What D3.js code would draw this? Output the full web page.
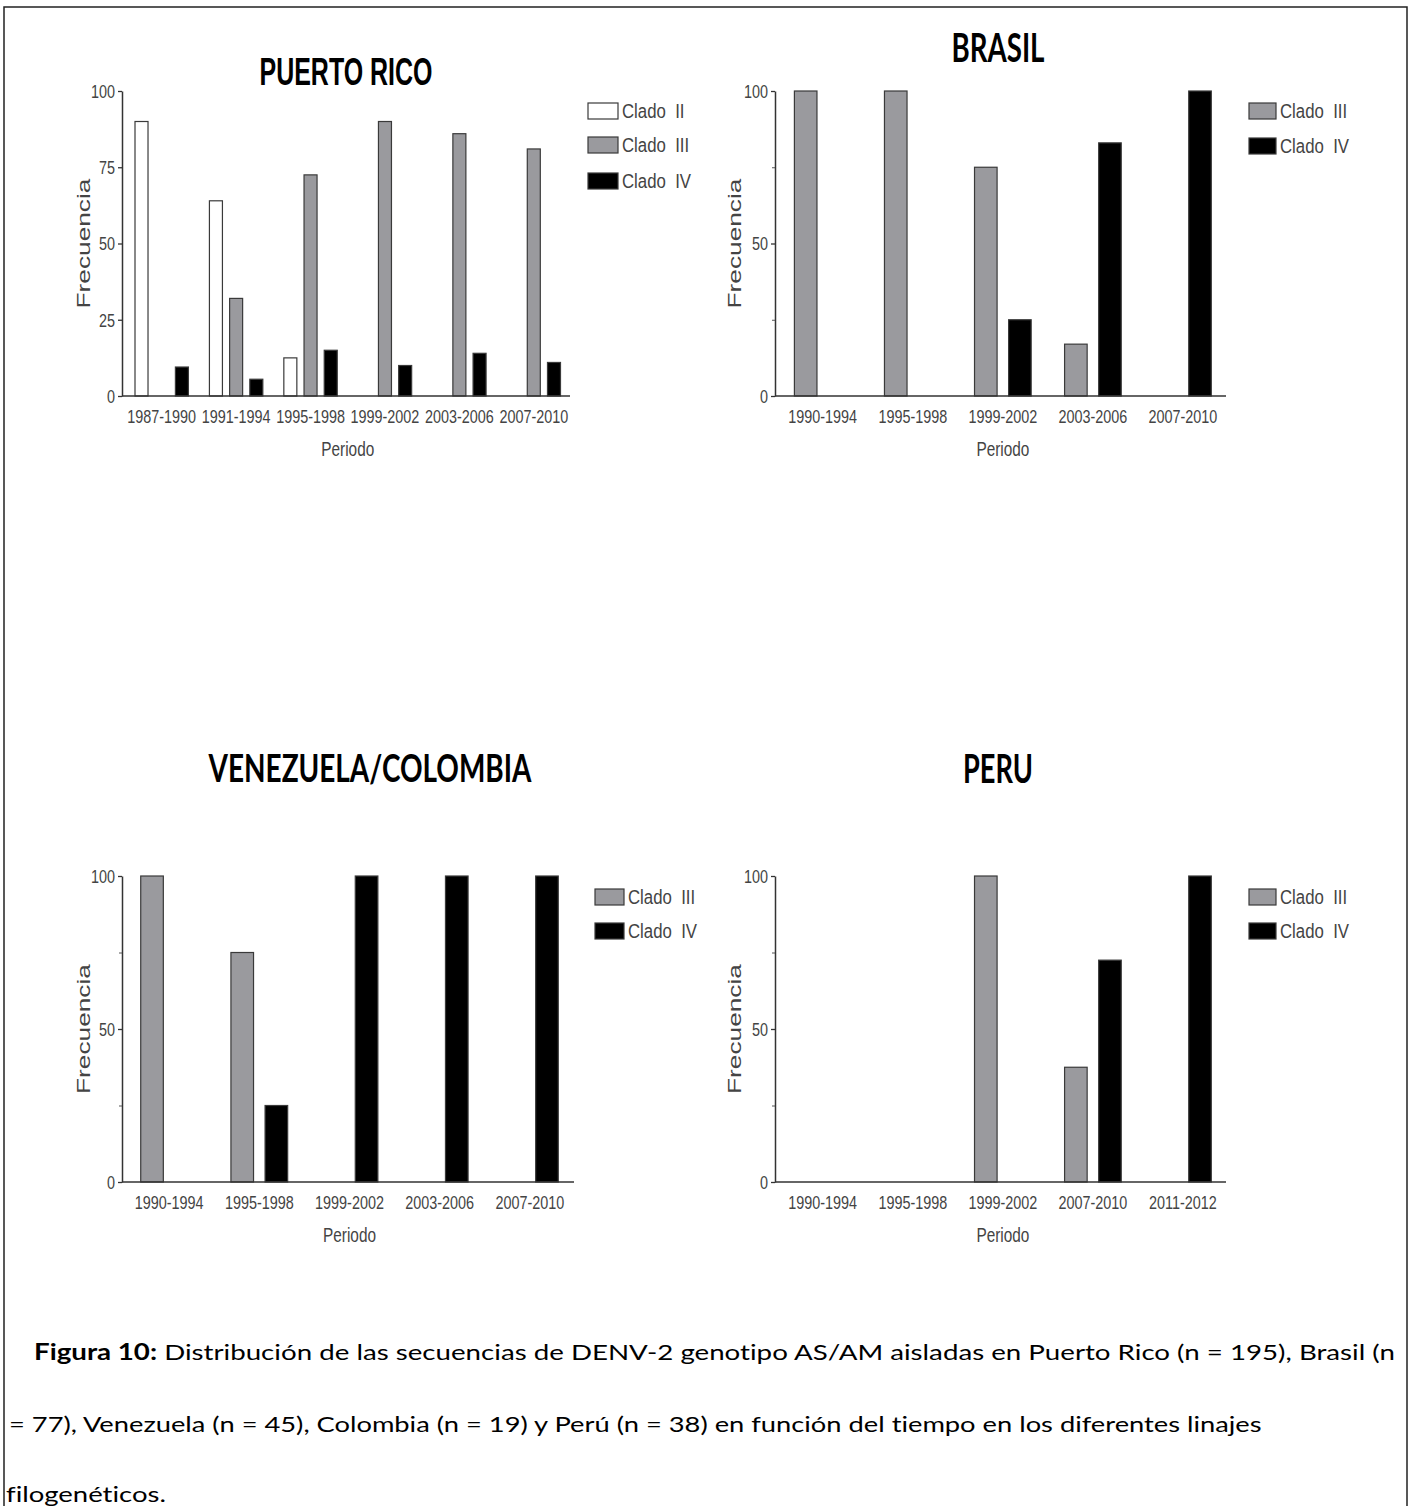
<!DOCTYPE html>
<html>
<head>
<meta charset="utf-8">
<script src="https://cdn.jsdelivr.net/npm/d3@7"></script>
<style>
  body { margin: 0; background: #fff; }
  svg { display: block; }
  text { font-variant-ligatures: none; font-feature-settings: "liga" 0, "dlig" 0; }
</style>
</head>
<body>
<div id="chart"></div>
<script>
// ---- data (% per period) ----
const prPeriods = ["1987-1990", "1991-1994", "1995-1998", "1999-2002", "2003-2006", "2007-2010"];
const prClado2 = [90, 64, 12.5, 0, 0, 0];
const prClado3 = [0, 32, 72.5, 90, 86, 81];
const prClado4 = [9.5, 5.5, 15, 10, 14, 11];

const brPeriods = ["1990-1994", "1995-1998", "1999-2002", "2003-2006", "2007-2010"];
const brClado3 = [100, 100, 75, 17, 0];
const brClado4 = [0, 0, 25, 83, 100];

const vcPeriods = ["1990-1994", "1995-1998", "1999-2002", "2003-2006", "2007-2010"];
const vcClado3 = [100, 75, 0, 0, 0];
const vcClado4 = [0, 25, 100, 100, 100];

const pePeriods = ["1990-1994", "1995-1998", "1999-2002", "2007-2010", "2011-2012"];
const peClado3 = [0, 0, 100, 37.5, 0];
const peClado4 = [0, 0, 0, 72.5, 100];

const prTicks = [0, 25, 50, 75, 100];
const otherTicks = [0, 50, 100];
const minorTicks = [25, 75];

const captionLine1a = "Figura 10:";
const captionLine1b = " Distribución de las secuencias de DENV-2 genotipo AS/AM aisladas en Puerto Rico (n = 195), Brasil (n";
const captionLine2 = "= 77), Venezuela (n = 45), Colombia (n = 19) y Perú (n = 38) en función del tiempo en los diferentes linajes";
const captionLine3 = "filogenéticos.";

// ---- styles ----
const cladeFill = {"Clado II": "#ffffff", "Clado III": "#9a9a9e", "Clado IV": "#000000"};
const chartFont = "'Liberation Sans', Arial, sans-serif";
const squeeze = 0.8;   // the figure text is narrow

const W = 1413, H = 1506;
const svg = d3.select("#chart").append("svg")
  .attr("width", W).attr("height", H);

// frame (no bottom edge, it runs off the page)
svg.append("path")
  .attr("d", `M4,${H} L4,7 L1407,7 L1407,${H}`)
  .attr("fill", "none").attr("stroke", "#222").attr("stroke-width", 1.5);

// stretch text horizontally so it spans a given width
function fitText(g, str, x, y, width, font, size, weight, anchor, rotate) {
  const t = g.append("text")
    .attr("font-family", font).attr("font-size", size)
    .attr("font-weight", weight || "normal")
    .attr("text-anchor", anchor || "start")
    .attr("fill", "#000")
    .text(str);
  const k = width / t.node().getComputedTextLength();
  t.attr("transform", `translate(${x},${y})${rotate ? " rotate(-90)" : ""} scale(${k},1)`);
  return t;
}

function drawPanel(p) {
  const g = svg.append("g");
  const series = p.series;
  const names = series.map(s => s.name);

  const x0 = d3.scaleBand().domain(p.periods).range(p.groupRange).padding(0);
  const x1 = d3.scaleBand().domain(names).range([0, x0.bandwidth()])
    .paddingInner(p.innerPad).paddingOuter(p.outerPad);
  const y = d3.scaleLinear().domain([0, 100]).range([p.y0, p.y100]);

  // bars
  series.forEach(s => {
    g.append("g").selectAll("rect")
      .data(p.periods.map((per, i) => ({per, v: s.values[i]})).filter(d => d.v > 0))
      .enter().append("rect")
        .attr("x", d => x0(d.per) + x1(s.name))
        .attr("y", d => y(d.v))
        .attr("width", x1.bandwidth())
        .attr("height", d => y(0) - y(d.v))
        .attr("fill", cladeFill[s.name])
        .attr("stroke", "#3a3a3a")
        .attr("stroke-width", 1.2);
  });

  // y axis
  const yAxis = g.append("g")
    .attr("transform", `translate(${p.axisX},0)`)
    .call(d3.axisLeft(y).tickValues(p.ticks).tickSize(4).tickSizeOuter(0));
  yAxis.select(".domain").attr("stroke", "#333").attr("stroke-width", 1.5);
  yAxis.selectAll(".tick line").attr("stroke", "#333").attr("stroke-width", 1.3);
  yAxis.selectAll(".tick text")
    .attr("x", null).attr("dy", "0.35em")
    .attr("transform", `translate(-7,0) scale(${squeeze},1)`)
    .attr("font-family", chartFont).attr("font-size", 18).attr("fill", "#444");

  if (p.minor) {
    const m = g.append("g")
      .attr("transform", `translate(${p.axisX},0)`)
      .call(d3.axisLeft(y).tickValues(minorTicks).tickSize(3).tickFormat(""));
    m.select(".domain").remove();
    m.selectAll(".tick line").attr("stroke", "#555");
  }

  // x axis: baseline and period labels
  g.append("line")
    .attr("x1", p.axisX).attr("x2", p.axisEnd)
    .attr("y1", y(0)).attr("y2", y(0))
    .attr("stroke", "#333").attr("stroke-width", 1.5);
  const xAxis = g.append("g")
    .attr("transform", `translate(0,${y(0)})`)
    .call(d3.axisBottom(x0).tickSize(0));
  xAxis.select(".domain").remove();
  xAxis.selectAll(".tick text")
    .attr("y", null).attr("dy", null)
    .attr("transform", `translate(0,27) scale(${squeeze},1)`)
    .attr("font-family", chartFont).attr("font-size", 18).attr("fill", "#444");

  // axis titles
  const midX = (p.groupRange[0] + p.groupRange[1]) / 2;
  fitText(g, "Periodo", midX, y(0) + 60, 53, chartFont, 21, "normal", "middle").attr("fill", "#444");
  fitText(g, "Frecuencia", p.yLabelX, (p.y0 + p.y100) / 2, 130, chartFont, 19, "normal", "middle", true)
    .attr("fill", "#444");

  // title
  fitText(g, p.title, p.titleX, p.titleY, p.titleW, p.titleFont, p.titleSize, p.titleWeight, "middle");

  // legend
  const leg = g.append("g");
  series.forEach((s, i) => {
    const yy = p.legendY[i];
    leg.append("rect")
      .attr("x", p.legendX).attr("y", yy - 8)
      .attr("width", p.legendW).attr("height", 16)
      .attr("fill", cladeFill[s.name]).attr("stroke", "#3a3a3a").attr("stroke-width", 1.2);
    leg.append("text")
      .attr("transform", `translate(${p.legendX + p.legendW + 4},${yy}) scale(${squeeze},1)`)
      .attr("dy", "0.35em")
      .attr("font-family", chartFont).attr("font-size", 21).attr("fill", "#444")
      .style("white-space", "pre")
      .text(s.name.replace(" ", "  "));
  });
}

const titleFont2 = "Lato, 'Open Sans', sans-serif";

drawPanel({
  title: "PUERTO RICO", titleX: 346, titleY: 85, titleW: 173,
  titleFont: chartFont, titleSize: 39, titleWeight: "bold",
  periods: prPeriods,
  series: [{name: "Clado II", values: prClado2}, {name: "Clado III", values: prClado3}, {name: "Clado IV", values: prClado4}],
  groupRange: [124.5, 571], innerPad: 0.356, outerPad: 0.52,
  axisX: 122, axisEnd: 570, y0: 396, y100: 91,
  ticks: prTicks, minor: false, yLabelX: 90,
  legendX: 588, legendW: 30, legendY: [111, 145, 181]
});

drawPanel({
  title: "BRASIL", titleX: 998, titleY: 62, titleW: 93,
  titleFont: titleFont2, titleSize: 40, titleWeight: "bold",
  periods: brPeriods,
  series: [{name: "Clado III", values: brClado3}, {name: "Clado IV", values: brClado4}],
  groupRange: [777.7, 1228], innerPad: 0.338, outerPad: 0.49,
  axisX: 775, axisEnd: 1226, y0: 396, y100: 91,
  ticks: otherTicks, minor: true, yLabelX: 741,
  legendX: 1249, legendW: 27, legendY: [111, 146]
});

drawPanel({
  title: "VENEZUELA/COLOMBIA", titleX: 370, titleY: 782, titleW: 323,
  titleFont: titleFont2, titleSize: 38, titleWeight: "bold",
  periods: vcPeriods,
  series: [{name: "Clado III", values: vcClado3}, {name: "Clado IV", values: vcClado4}],
  groupRange: [124, 575], innerPad: 0.338, outerPad: 0.49,
  axisX: 122, axisEnd: 574, y0: 1182, y100: 876,
  ticks: otherTicks, minor: true, yLabelX: 90,
  legendX: 595, legendW: 29, legendY: [897, 931]
});

drawPanel({
  title: "PERU", titleX: 998, titleY: 783, titleW: 70,
  titleFont: titleFont2, titleSize: 40, titleWeight: "bold",
  periods: pePeriods,
  series: [{name: "Clado III", values: peClado3}, {name: "Clado IV", values: peClado4}],
  groupRange: [777.7, 1228], innerPad: 0.338, outerPad: 0.49,
  axisX: 775, axisEnd: 1226, y0: 1182, y100: 876,
  ticks: otherTicks, minor: true, yLabelX: 741,
  legendX: 1249, legendW: 27, legendY: [897, 931]
});

// ---- caption ----
const capFont = "Lato, 'Open Sans', sans-serif";
const cap = svg.append("g");
const l1 = cap.append("text")
  .attr("font-family", capFont).attr("font-size", 22).attr("fill", "#000");
l1.append("tspan").attr("font-weight", "bold").text(captionLine1a);
l1.append("tspan").text(captionLine1b);
const k1 = 1361 / l1.node().getComputedTextLength();
l1.attr("transform", `translate(34,1360) scale(${k1},1)`);

fitText(cap, captionLine2, 9, 1432, 1253, capFont, 22, "normal", "start");
fitText(cap, captionLine3, 6, 1502, 160, capFont, 22, "normal", "start");
</script>
</body>
</html>
